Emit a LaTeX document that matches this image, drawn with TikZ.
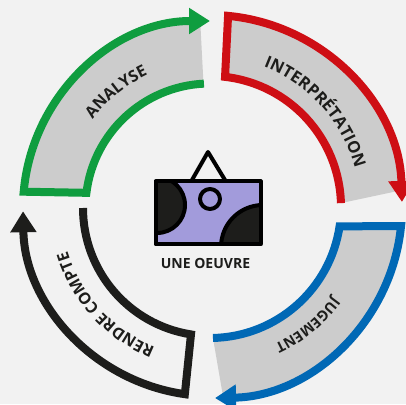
\documentclass[tikz,border=0pt]{standalone}
\usepackage{fontspec}
\setmainfont{Open Sans}
\usetikzlibrary{arrows.meta,decorations.text}
\definecolor{bgc}{HTML}{F2F2F2}
\definecolor{greyc}{HTML}{CCCCCC}
\definecolor{greenc}{HTML}{0F9D3F}
\definecolor{redc}{HTML}{CE0E14}
\definecolor{bluec}{HTML}{0068B5}
\definecolor{blackc}{HTML}{1D1D1B}
\definecolor{purplec}{HTML}{A29BDB}
\newcommand{\lblfont}{\fontsize{16}{18}\selectfont\bfseries\color{blackc}}
\newcommand{\lblfontsmall}{\fontsize{14.5}{17}\selectfont\bfseries\color{blackc}}
\newcommand{\lblfontbig}{\fontsize{16.5}{18}\selectfont\bfseries\color{blackc}}
\tikzset{
  x=1pt,y=1pt,
  band/.style={line width=8pt,line join=miter,-{Triangle[length=21pt,width=25pt]}},
  greyband/.style={fill=greyc,draw=none},
  curved/.style={decorate,decoration={text along path,text align=center,text={#1}}},
  frame/.style={line width=4pt,draw=black,line join=round},
}
\begin{document}
\begin{tikzpicture}
\useasboundingbox (0,0) rectangle (406,404);
\fill[bgc] (0,0) rectangle (406,404);
% green
\begin{scope}[shift={(210,196)}]
\fill[greyband] (93:124.5pt) arc[start angle=93,end angle=173,radius=124.5pt] -- (175:187pt) arc[start angle=175,end angle=93,radius=187pt] -- cycle;
\draw[band,greenc] (92.8:124.5pt) arc[start angle=92.8,end angle=173,radius=124.5pt] -- (175:187pt) arc[start angle=175,end angle=90,radius=187pt];
\path[curved={|\lblfont|ANALYSE}] (169:147pt) arc[start angle=169,end angle=89,radius=147pt];
\end{scope}
% red
\begin{scope}[shift={(210,197)}]
\fill[greyband] (83.4:131pt) arc[start angle=83.4,end angle=1.7,radius=131pt] -- (5:192pt) arc[start angle=5,end angle=84.6,radius=192pt] -- cycle;
\draw[band,redc] (1.7:131pt) arc[start angle=1.7,end angle=83.4,radius=131pt] -- (84.6:192pt) arc[start angle=84.6,end angle=1.5,radius=192pt];
\path[curved={|\lblfontbig|INTERPRÉTATION}] (82:150pt) arc[start angle=82,end angle=2,radius=150pt];
\end{scope}
% blue
\begin{scope}[shift={(210,197)}]
\fill[greyband] (-8.5:131pt) arc[start angle=-8.5,end angle=-88.7,radius=131pt] -- (-86:192pt) arc[start angle=-86,end angle=-5.7,radius=192pt] -- cycle;
\draw[band,bluec] (-88.7:131pt) arc[start angle=-88.7,end angle=-8.5,radius=131pt] -- (-5.7:192pt) arc[start angle=-5.7,end angle=-88.8,radius=191pt];
\path[curved={|\lblfontsmall|JUGEMENT}] (-10.5:152pt) arc[start angle=-10.5,end angle=-90.5,radius=152pt];
\end{scope}
% black
\begin{scope}[shift={(211,196)}]
\draw[band,blackc] (180:128pt) arc[start angle=180,end angle=261,radius=128pt] -- (262:188pt) arc[start angle=262,end angle=181,radius=188pt];
\path[curved={|\lblfont|RENDRE COMPTE}] (262.5:150pt) arc[start angle=262.5,end angle=182.5,radius=150pt];
\end{scope}
% painting
\coordinate (tl) at (155.5,222.5);
\coordinate (br) at (260.5,159.5);
\fill[purplec] (tl) rectangle (br);
\begin{scope}
\clip (tl) rectangle (br);
\draw[line width=4pt,fill=blackc,draw=black] (157,199) circle[radius=28pt];
\draw[line width=4pt,fill=blackc,draw=black] (263,157) circle[radius=42pt];
\end{scope}
\draw[frame] (tl) rectangle (br);
\draw[frame] (192,224) -- (208,252) -- (225,224);
\draw[frame] (210,205) circle[radius=10pt];
\node[font=\fontsize{14}{16}\selectfont\bfseries,text=blackc,inner sep=0pt] (title) at (205.5,141) {UNE OEUVRE};
\end{tikzpicture}
\end{document}
